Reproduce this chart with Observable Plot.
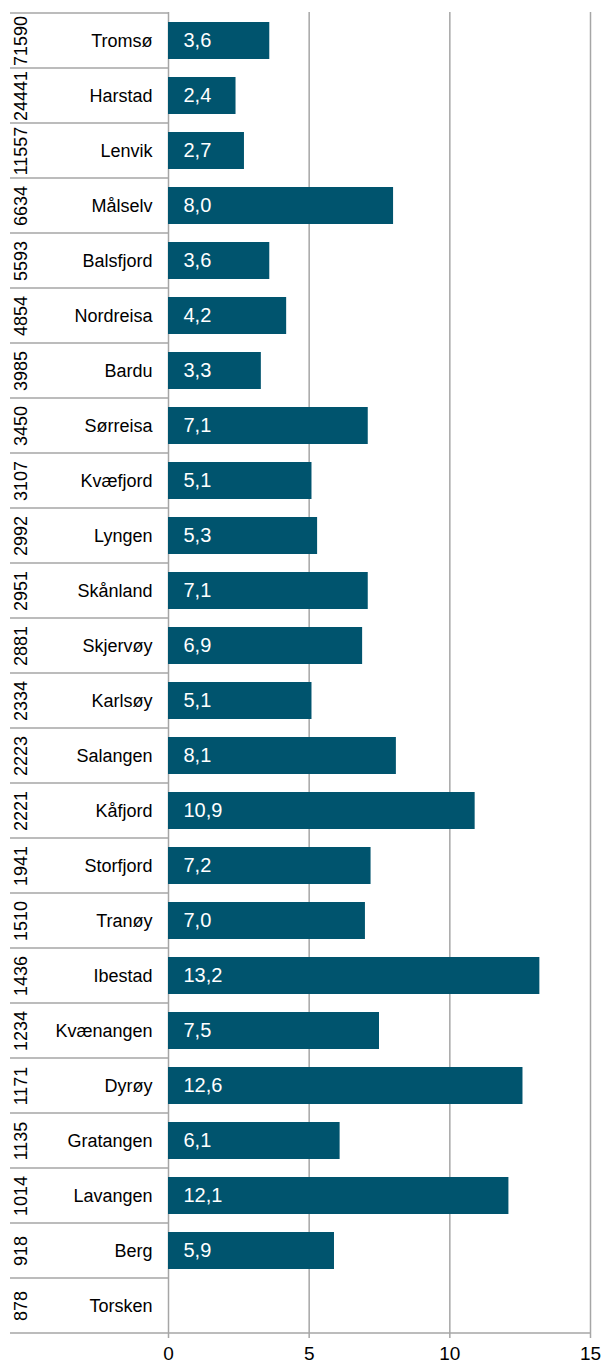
<!DOCTYPE html>
<html>
<head>
<meta charset="utf-8">
<script src="https://cdn.jsdelivr.net/npm/d3@7"></script>
<script src="https://cdn.jsdelivr.net/npm/@observablehq/plot@0.6"></script>
<style>
  html, body { margin: 0; padding: 0; background: #fff; }
  #chart svg { display: block; font-family: "Liberation Sans", Arial, sans-serif; }
</style>
</head>
<body>
<div id="chart"></div>
<script>
const names = ["Tromsø","Harstad","Lenvik","Målselv","Balsfjord","Nordreisa","Bardu","Sørreisa","Kvæfjord","Lyngen","Skånland","Skjervøy","Karlsøy","Salangen","Kåfjord","Storfjord","Tranøy","Ibestad","Kvænangen","Dyrøy","Gratangen","Lavangen","Berg","Torsken"];
const population = [71590,24441,11557,6634,5593,4854,3985,3450,3107,2992,2951,2881,2334,2223,2221,1941,1510,1436,1234,1171,1135,1014,918,878];
const values = [3.6,2.4,2.7,8.0,3.6,4.2,3.3,7.1,5.1,5.3,7.1,6.9,5.1,8.1,10.9,7.2,7.0,13.2,7.5,12.6,6.1,12.1,5.9,null];
const xTicks = [0,5,10,15];

const data = names.map((n, i) => ({name: n, pop: population[i], value: values[i]}));
const withValue = data.filter(d => d.value != null);
const fmt = v => v.toFixed(1).replace(".", ",");
const gridColor = "#a6a6a6";

const chart = Plot.plot({
  width: 604,
  height: 1365,
  marginLeft: 168,
  marginRight: 14,
  marginTop: 12,
  marginBottom: 32,
  style: {fontFamily: "'Liberation Sans', Arial, sans-serif", color: "#000", background: "#fff"},
  x: {domain: [0, 15], ticks: xTicks, label: null},
  y: {domain: names, paddingInner: 0.33, paddingOuter: 0.165, axis: null, label: null},
  marks: [
    Plot.ruleX(xTicks, {stroke: gridColor, strokeWidth: 1.5, insetBottom: -5}),
    Plot.barX(withValue, {x: "value", y: "name", fill: "#00546e"}),
    Plot.text(withValue, {x: 0, y: "name", text: d => fmt(d.value), dx: 15, textAnchor: "start", fill: "#fff", fontSize: 20}),
    Plot.text(data, {x: 0, y: "name", text: "name", dx: -16, textAnchor: "end", fill: "#000", fontSize: 18}),
    Plot.text(data, {x: 0, y: "name", text: d => String(d.pop), dx: -147, rotate: -90, fill: "#000", fontSize: 18}),
    Plot.axisX({ticks: xTicks, tickSize: 0, tickPadding: 13, fontSize: 19, tickFormat: d => String(d), fill: "#000", label: null})
  ]
});

document.getElementById("chart").appendChild(chart);

// separators in the label area, and the bottom baseline, placed via the plot's scales
const xs = chart.scale("x");
const ys = chart.scale("y");
const svg = d3.select(chart);
const gap = (ys.step - ys.bandwidth) / 2;
const bounds = names.map(n => ys.apply(n) - gap);
bounds.push(ys.apply(names[names.length - 1]) + ys.bandwidth + gap);
const x0 = xs.apply(0);
const g = svg.append("g").attr("stroke", gridColor).attr("stroke-width", 1.5);
bounds.forEach((b, i) => {
  g.append("line")
    .attr("x1", 10).attr("x2", i === bounds.length - 1 ? xs.apply(15) : x0)
    .attr("y1", b).attr("y2", b);
});
</script>
</body>
</html>
